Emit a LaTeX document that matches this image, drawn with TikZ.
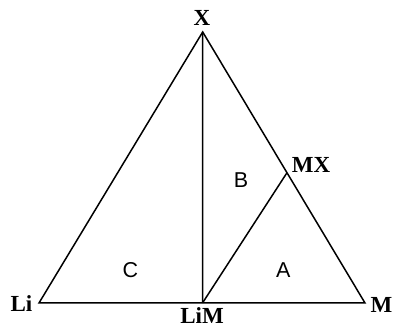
\documentclass[tikz,border=0pt]{standalone}
\usepackage{fontspec}
\setmainfont{Liberation Serif}
\setsansfont{Liberation Sans}
\begin{document}
\begin{tikzpicture}[x=1pt,y=1pt,
  edge/.style={line width=1.5pt, line join=miter},
  vlabel/.style={anchor=base, inner sep=0pt, text depth=0pt, font=\fontsize{23}{23}\selectfont\bfseries},
  rlabel/.style={anchor=base, inner sep=0pt, font=\fontsize{21.5}{21.5}\selectfont\sffamily}]
\useasboundingbox (0,0) rectangle (393,328);
\coordinate (X) at (202.7,296);
\coordinate (Li) at (39,25);
\coordinate (M) at (365,25);
\coordinate (LiM) at (202.5,25);
\coordinate (MX) at (287,155.3);
\draw[edge] (X) -- (Li) -- (M) -- cycle;
\draw[edge] (X) -- (LiM);
\draw[edge] (LiM) -- (MX);
\node[vlabel] (lX) at (202,302) {X};
\node[vlabel] (lLi) at (21.5,16) {Li};
\node[vlabel] (lM) at (381.5,15.5) {M};
\node[vlabel] (lLiM) at (202,4) {LiM};
\node[vlabel] (lMX) at (311,155.5) {MX};
\node[rlabel] (lB) at (241,140) {B};
\node[rlabel] (lC) at (130.3,50) {C};
\node[rlabel] (lA) at (283.3,50) {A};
\end{tikzpicture}
\end{document}
